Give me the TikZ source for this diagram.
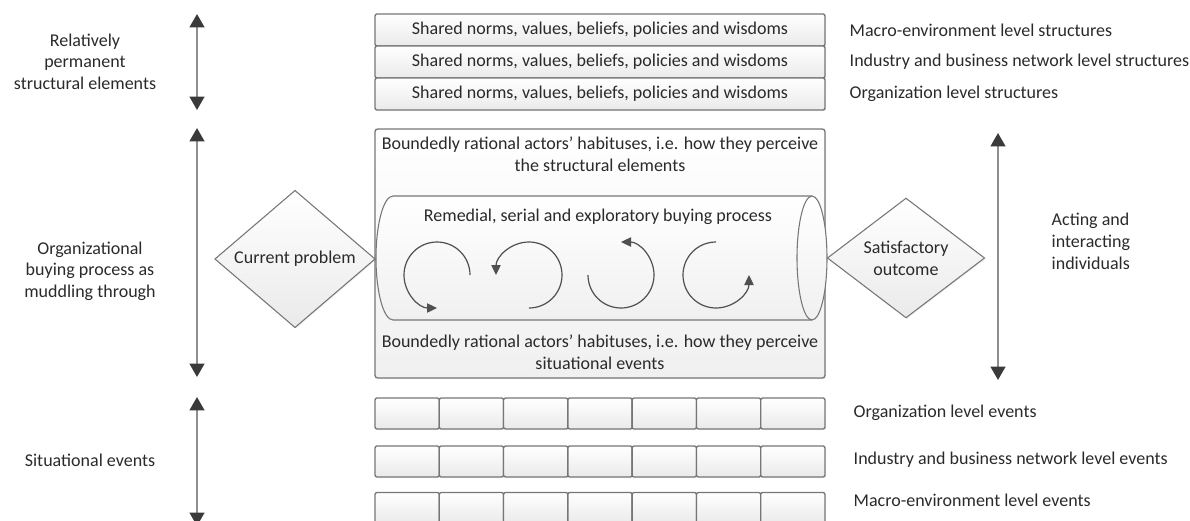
\documentclass[tikz,border=0pt]{standalone}
\usepackage{fontspec}
\setmainfont{Carlito}
\usetikzlibrary{arrows.meta,shapes.geometric,calc,shadows}

\definecolor{ink}{HTML}{2A2A2A}
\definecolor{edge}{HTML}{767676}
\definecolor{fillbot}{HTML}{EAEAEA}
\definecolor{framebot}{HTML}{F0F0F0}
\definecolor{shaft}{HTML}{8E8E8E}
\definecolor{head}{HTML}{3A3A3A}
\definecolor{loopc}{HTML}{505050}

\begin{document}
\begin{tikzpicture}[x=0.75pt, y=-0.75pt,
  font=\fontsize{13.5}{16.5}\selectfont, text=ink,
  panel/.style={rectangle, draw=edge, line width=1pt, rounded corners=1.5pt,
    top color=white, bottom color=fillbot, inner sep=0pt, outer sep=0pt},
  soft/.style={drop shadow={opacity=0.12, shadow xshift=0.8pt, shadow yshift=-0.8pt}},
  layer/.style={panel, soft, minimum width=337.5pt, minimum height=24pt},
  cell/.style={panel, soft, minimum width=48.21pt, minimum height=23.25pt},
  choice/.style={diamond, draw=edge, line width=0.8pt, top color=white,
    bottom color=fillbot, inner sep=0pt, outer sep=0pt, align=center, soft},
  span/.style={draw=shaft, line width=1.6pt,
    {Triangle[length=10pt,width=11pt,color=head]}-{Triangle[length=10pt,width=11pt,color=head]}},
  loop/.style={draw=loopc, line width=0.9pt, -{Triangle[length=7.5pt,width=7pt]}},
  lbl/.style={align=center, font=\fontsize{13.5}{16}\selectfont},
  side/.style={anchor=west},
]
\useasboundingbox (0,0) rectangle (1190,521);
\clip (0,0) rectangle (1190,521);

% --- structural layers ---
\node[layer] (s1) at (600,30) {Shared norms, values, beliefs, policies and wisdoms};
\node[layer] (s2) at (600,62) {Shared norms, values, beliefs, policies and wisdoms};
\node[layer] (s3) at (600,94) {Shared norms, values, beliefs, policies and wisdoms};
\node[side] (m1) at (845,30) {Macro-environment level structures};
\node[side] (m2) at (845,62) {Industry and business network level structures};
\node[side] (m3) at (845,94) {Organization level structures};

% --- actors' frame ---
\node[panel, soft, rounded corners=2pt, bottom color=framebot,
  minimum width=337.5pt, minimum height=186.75pt] (frame) at (600,253.5) {};
\node[align=center] (habtop) at (600,154) {Boundedly rational actors' habituses, i.e. how they perceive\\the structural elements};
\node[align=center] (habbot) at (600,352) {Boundedly rational actors' habituses, i.e. how they perceive\\situational events};

% --- buying process cylinder ---
\path[draw=edge, line width=0.8pt, top color=white, bottom color=framebot]
  (812,196) -- (393,196)
  arc[start angle=270, end angle=90, x radius=17, y radius=62]
  -- (812,320)
  arc[start angle=90, end angle=-90, x radius=15, y radius=62] -- cycle;
\draw[edge, line width=0.8pt] (812,196) arc[start angle=270, end angle=90, x radius=15, y radius=62];
\node (proc) at (598,217) {Remedial, serial and exploratory buying process};

% --- iterative loops ---
\coordinate (c1) at (437,275);
\coordinate (c2) at (529,275);
\coordinate (c3) at (621,275);
\coordinate (c4) at (716,275);
\draw[loop] ($(c1)+(0:33)$) arc[start angle=0, end angle=-270, radius=33];
\draw[loop] ($(c2)+(90:33)$) arc[start angle=90, end angle=-180, radius=33];
\draw[loop] ($(c3)+(-180:33)$) arc[start angle=-180, end angle=-450, radius=33];
\draw[loop] ($(c4)+(-90:33)$) arc[start angle=-90, end angle=-360, radius=33];

% --- start and end of the process ---
\node[choice, minimum width=120pt, minimum height=72pt] (prob) at (295,259) {Current problem};
\node[choice, minimum width=117.75pt, minimum height=72.75pt] (sat) at (906,258) {Satisfactory\\outcome};

% --- situational events ---
\foreach \r/\y in {1/413.5, 2/461.5, 3/508}{
  \foreach \c in {1,...,7}{
    \node[cell] (e\r\c) at ({375+64.2857*(\c-0.5)}, \y) {};
  }
}
\node[side] (v1) at (849,413) {Organization level events};
\node[side] (v2) at (849,460) {Industry and business network level events};
\node[side] (v3) at (849,500) {Macro-environment level events};

% --- span arrows and their labels ---
\coordinate (a1t) at (197,14);  \coordinate (a1b) at (197,110);
\coordinate (a2t) at (197,128); \coordinate (a2b) at (197,377);
\coordinate (a3t) at (197,397); \coordinate (a3b) at (197,526);
\coordinate (a4t) at (998,133); \coordinate (a4b) at (998,380);
\draw[span] (a1t) -- (a1b);
\draw[span] (a2t) -- (a2b);
\draw[span] (a3t) -- (a3b);
\draw[span] (a4t) -- (a4b);

\node[lbl] (lstruct) at (85,61.5) {Relatively\\permanent\\structural elements};
\node[lbl] (lproc) at (90,271) {Organizational\\buying process as\\muddling through};
\node[lbl] (lsit) at (90,460) {Situational events};
\node[align=left, anchor=west, font=\fontsize{13.5}{16.5}\selectfont] (act) at (1047,241) {Acting and\\interacting\\individuals};
\end{tikzpicture}
\end{document}
